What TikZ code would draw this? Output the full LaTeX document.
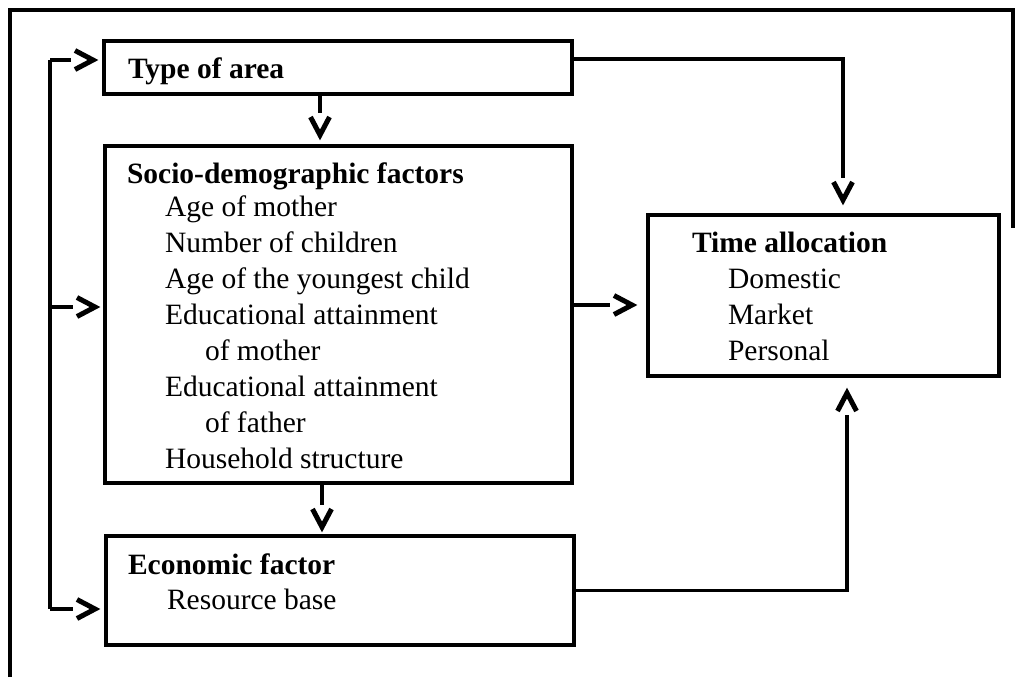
\documentclass[tikz,border=0pt]{standalone}
\usepackage{fontspec}
\setmainfont{Liberation Serif}
\begin{document}
\begin{tikzpicture}[x=0.5pt,y=-0.5pt,
  every node/.style={inner sep=0pt,outer sep=0pt},
  frameline/.style={line width=2pt},
  box/.style 2 args={draw,line width=1.8pt,rectangle,
    minimum width=#1*0.5pt,minimum height=#2*0.5pt},
  conn/.style={line width=1.8pt},
  chevline/.style={line width=2.5pt,miter limit=4,
    shorten >=0pt,shorten <=0pt},
  % open chevrons whose point lies #1 units before the end of the path
  pics/chevR/.style={code={
    \draw[chevline] (-#1-18,-9.5) -- (-#1,0) -- (-#1-18,9.5);}},
  pics/chevD/.style={code={
    \draw[chevline] (-9.5,-#1-18) -- (0,-#1) -- (9.5,-#1-18);}},
  pics/chevU/.style={code={
    \draw[chevline] (-9.5,#1+18) -- (0,#1) -- (9.5,#1+18);}},
  % connector: line stops short of the chevron, chevron stops short of the box
  link/.style={conn,shorten >=#1*0.5pt+22*0.5pt},
  txt/.style={anchor=base west,font=\fontsize{14.75pt}{18pt}\selectfont},
  head/.style={txt,font=\fontsize{14.75pt}{18pt}\selectfont\bfseries}]
\useasboundingbox (0,0) rectangle (1016,677);

% outer frame
\draw[frameline] (10,677) -- (10,9.5) -- (1013,9.5) -- (1013,228);

% boxes
\node[box={468}{53}]  (type)  at (338,67.5)    {};
\node[box={467}{337}] (socio) at (338.5,314.5) {};
\node[box={468}{109}] (econ)  at (340,590.5)   {};
\node[box={351}{161}] (time)  at (823.5,295.5) {};

% box texts
\node[head] (typeT) at (128,78) {Type of area};

\node[head] (socioT) at (127,183) {Socio-demographic factors};
\node[txt] (s1) at (165,216) {Age of mother};
\node[txt] (s2) at (165,252) {Number of children};
\node[txt] (s3) at (165,288) {Age of the youngest child};
\node[txt] (s4) at (165,324) {Educational attainment};
\node[txt] (s5) at (205,360) {of mother};
\node[txt] (s6) at (165,396) {Educational attainment};
\node[txt] (s7) at (205,432) {of father};
\node[txt] (s8) at (165,468) {Household structure};

\node[head] (econT) at (128,574) {Economic factor};
\node[txt] (e1) at (167,609) {Resource base};

\node[head] (timeT) at (692,252) {Time allocation};
\node[txt] (t1) at (728,288) {Domestic};
\node[txt] (t2) at (728,324) {Market};
\node[txt] (t3) at (728,360) {Personal};

% helper coordinates for connector positions
\coordinate (busTop) at (50,60);
\coordinate (busMid) at (50,307);
\coordinate (busBot) at (50,609);
\coordinate (tsX) at (320,0);
\coordinate (seX) at (322,0);
\coordinate (ttY) at (0,59);
\coordinate (ttX) at (843,0);
\coordinate (stY) at (0,305);
\coordinate (etX) at (847,0);

% left input bus
\draw[conn] (busTop) -- (busBot);
\draw[link=11] (busTop) -- (busTop -| type.west) pic[pos=1] {chevR=11};
\draw[link=10] (busMid) -- (busMid -| socio.west) pic[pos=1] {chevR=10};
\draw[link=11] (busBot) -- (busBot -| econ.west) pic[pos=1] {chevR=11};

% vertical links between the left boxes
\draw[link=11] (type.south -| tsX) -- (socio.north -| tsX) pic[pos=1] {chevD=11};
\draw[link=9] (socio.south -| seX) -- (econ.north -| seX) pic[pos=1] {chevD=9};

% links into time allocation
\draw[link=15] (type.east |- ttY) -| (time.north -| ttX) pic[pos=1] {chevD=15};
\draw[link=16] (socio.east |- stY) -- (time.west |- stY) pic[pos=1] {chevR=16};
\draw[link=17] (econ.east) -| (time.south -| etX) pic[pos=1] {chevU=17};
\end{tikzpicture}
\end{document}
